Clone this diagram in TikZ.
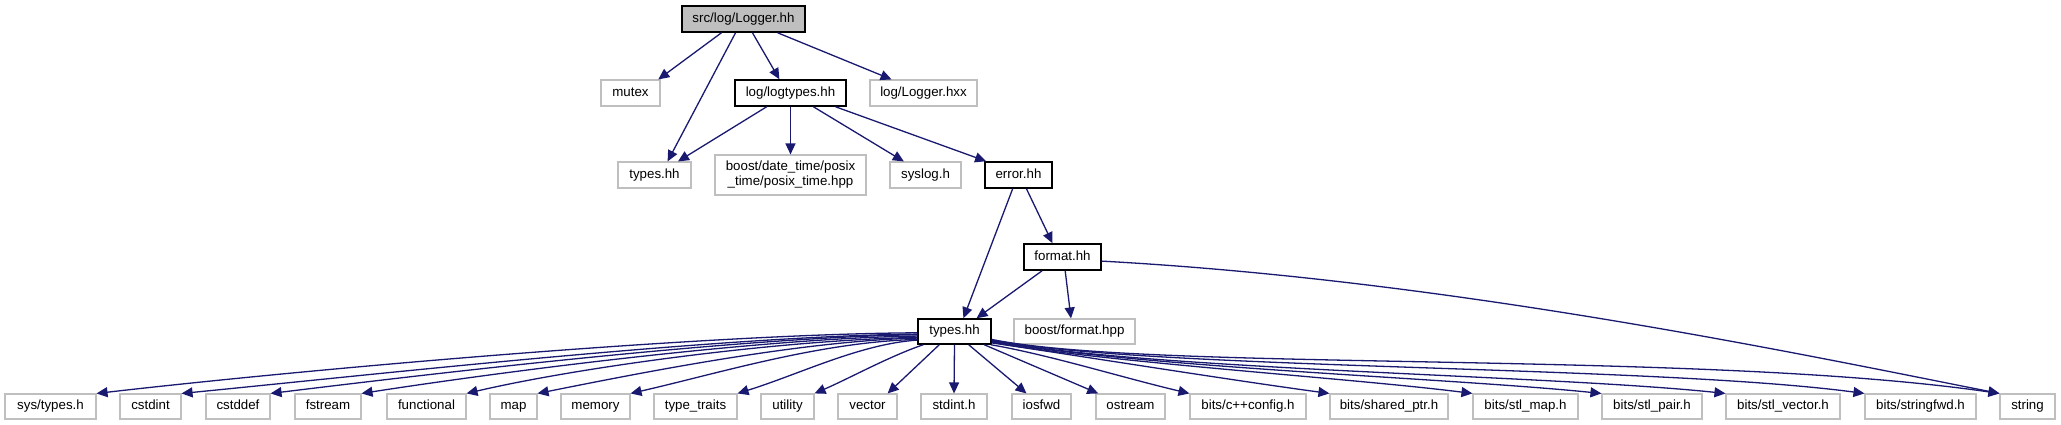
\documentclass[tikz,border=0pt]{standalone}
\usepackage{fontspec}
\setmainfont{Liberation Sans}
\usetikzlibrary{arrows.meta}
\definecolor{edgeblue}{HTML}{191970}
\definecolor{boxgray}{HTML}{BFBFBF}
\definecolor{rootfill}{HTML}{BFBFBF}
\tikzset{
  box/.style={draw=boxgray, line width=1.1pt, inner sep=0pt, minimum height=25pt,
    text height=9.6pt, text depth=2.7pt, font=\fontsize{13.3}{15}\selectfont},
  docbox/.style={box, draw=black, line width=1.5pt},
  rootbox/.style={docbox, fill=rootfill},
  twoline/.style={draw=boxgray, line width=1.1pt, inner sep=0pt, minimum height=40pt,
    align=center, font=\fontsize{13.3}{15}\selectfont},
  edge/.style={draw=edgeblue, line width=1.3pt, -{Triangle[length=11pt,width=10pt]}},
}
\begin{document}
\begin{tikzpicture}[x=1pt,y=-1pt]
\useasboundingbox (0,0) rectangle (2061,425);
% top
\node[rootbox, minimum width=123pt, minimum height=26pt] (logger) at (743.5,19) {src/log/Logger.hh};
\node[box, minimum width=59pt, minimum height=26pt] (mutex) at (630.5,93) {mutex};
\node[docbox, minimum width=111pt, minimum height=26pt] (logtypes) at (790.5,93) {log/logtypes.hh};
\node[box, minimum width=107pt, minimum height=26pt] (loggerhxx) at (923.5,93) {log/Logger.hxx};
% second row
\node[box, minimum width=73pt, minimum height=26pt] (types1) at (654.5,175) {types.hh};
\node[twoline, minimum width=151pt] (boostdt) at (790.5,175) {boost/date\_time/posix\\\_time/posix\_time.hpp};
\node[box, minimum width=71pt, minimum height=26pt] (syslog) at (925.5,175) {syslog.h};
\node[docbox, minimum width=67pt, minimum height=26pt] (error) at (1018.5,175) {error.hh};
% third row
\node[docbox, minimum width=77pt, minimum height=26pt] (format) at (1062.5,257) {format.hh};
% fourth row
\node[docbox, minimum width=73pt] (t2) at (954.5,331.5) {types.hh};
\node[box, minimum width=121pt] (boostfmt) at (1074.5,331.5) {boost/format.hpp};
% bottom row
\node[box, minimum width=91pt] (systypes) at (50.5,406.5) {sys/types.h};
\node[box, minimum width=61pt] (cstdint) at (150.5,406.5) {cstdint};
\node[box, minimum width=64pt] (cstddef) at (238,406.5) {cstddef};
\node[box, minimum width=66pt] (fstream) at (328,406.5) {fstream};
\node[box, minimum width=79pt] (functional) at (426.5,406.5) {functional};
\node[box, minimum width=47pt] (map) at (513.5,406.5) {map};
\node[box, minimum width=69pt] (memory) at (595.5,406.5) {memory};
\node[box, minimum width=83pt] (typetraits) at (695.5,406.5) {type\_traits};
\node[box, minimum width=53pt] (utility) at (787.5,406.5) {utility};
\node[box, minimum width=59pt] (vector) at (867.5,406.5) {vector};
\node[box, minimum width=66pt] (stdint) at (954,406.5) {stdint.h};
\node[box, minimum width=59pt] (iosfwd) at (1041.5,406.5) {iosfwd};
\node[box, minimum width=69pt] (ostream) at (1130.5,406.5) {ostream};
\node[box, minimum width=116pt] (cppconfig) at (1248,406.5) {bits/c++config.h};
\node[box, minimum width=118pt] (sharedptr) at (1389,406.5) {bits/shared\_ptr.h};
\node[box, minimum width=105pt] (stlmap) at (1525.5,406.5) {bits/stl\_map.h};
\node[box, minimum width=100pt] (stlpair) at (1652,406.5) {bits/stl\_pair.h};
\node[box, minimum width=114pt] (stlvector) at (1783,406.5) {bits/stl\_vector.h};
\node[box, minimum width=111pt] (stringfwd) at (1920.5,406.5) {bits/stringfwd.h};
\node[box, minimum width=55pt] (string) at (2027.5,406.5) {string};
% top edges
\draw[edge] (logger.212) -- (mutex.26);
\draw[edge] (logger.240) -- (types1.46);
\draw[edge] (logger.303) -- (logtypes.129);
\draw[edge] (logger.338) -- (loggerhxx.157);
\draw[edge] (logtypes.210) -- (types1.30);
\draw[edge] (logtypes.south) -- (boostdt.north);
\draw[edge] (logtypes.329) -- (syslog.148);
\draw[edge] (logtypes.343) -- (error.157);
\draw[edge] (error.247) -- (t2.56);
\draw[edge] (error.300) -- (format.126);
\draw[edge] (format.214) -- (t2.31);
\draw[edge] (format.281) -- (boostfmt.105);
\draw[edge] (format.354) .. controls (1450,280) and (1800,354) .. (string.north west);
% left fan
\draw[edge] (t2.182) .. controls (700,334) and (300,370) .. (systypes.north east);
\draw[edge] (t2.184) .. controls (720,336) and (380,374) .. (cstdint.north east);
\draw[edge] (t2.185) .. controls (740,337) and (430,374) .. (cstddef.north east);
\draw[edge] (t2.187) .. controls (760,338) and (500,372) .. (fstream.north east);
\draw[edge] (t2.189) .. controls (780,340) and (580,367) .. (functional.north east);
\draw[edge] (t2.190) .. controls (800,341) and (640,373) .. (map.north east);
\draw[edge] (t2.192) .. controls (820,342) and (720,373) .. (memory.north east);
\draw[edge] (t2.193) .. controls (860,344) and (800,374) .. (typetraits.north east);
\draw[edge] (t2.203) .. controls (890,356) and (850,378) .. (utility.north east);
\draw[edge] (t2.221) -- (vector.33);
\draw[edge] (t2.south) -- (stdint.north);
\draw[edge] (t2.317) -- (iosfwd.139);
\draw[edge] (t2.336) -- (ostream.158);
% right fan
\draw[edge] (t2.340) .. controls (1050,355) and (1120,377) .. (cppconfig.north west);
\draw[edge] (t2.343) .. controls (1080,356) and (1230,380) .. (sharedptr.north west);
\draw[edge] (t2.344) .. controls (1100,362) and (1350,378) .. (stlmap.north west);
\draw[edge] (t2.345) .. controls (1150,368) and (1450,378) .. (stlpair.north west);
\draw[edge] (t2.346) .. controls (1150,370) and (1550,375) .. (stlvector.north west);
\draw[edge] (t2.347) .. controls (1150,370) and (1650,365) .. (stringfwd.north west);
\draw[edge] (t2.348) .. controls (1150,372) and (1700,350) .. (string.north west);
\end{tikzpicture}
\end{document}
